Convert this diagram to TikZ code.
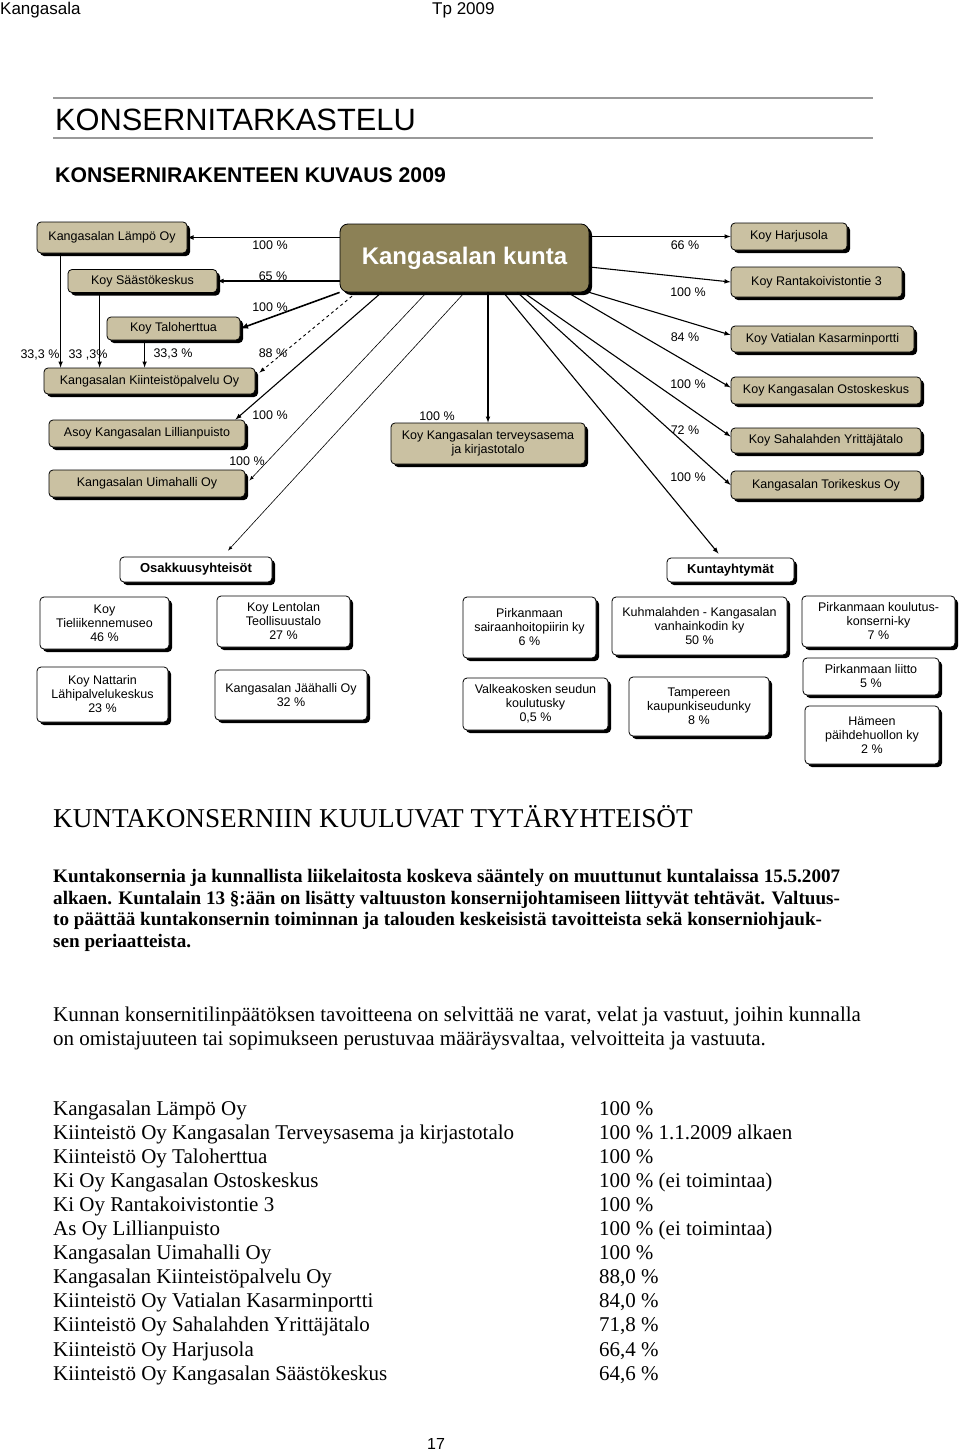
\documentclass[tikz,border=0pt]{standalone}
\usepackage{fontspec}
\setmainfont{Liberation Serif}
\setsansfont{Liberation Sans}
\usetikzlibrary{shadows,positioning}
\definecolor{khaki}{RGB}{202,193,162}
\definecolor{olive}{RGB}{140,129,86}
\newcommand{\fs}[2]{\fontsize{#1}{#2}\selectfont}
\tikzset{
  firm/.style={draw,line width=0.8pt,rounded corners=4pt,fill=khaki,align=center,inner sep=1pt,
    font=\sffamily\fs{12.5}{14},
    drop shadow={shadow xshift=3pt,shadow yshift=-3pt,fill=black,opacity=1}},
  member/.style={firm,fill=white},
  pct/.style={font=\sffamily\fs{12.5}{14},inner sep=0pt},
  head/.style={font=\sffamily\fs{17}{20},inner sep=0pt,anchor=base west},
  own/.style={-latex,line width=1.1pt},
  hair/.style={-latex,line width=0.6pt},
  rule/.style={draw=black!40,line width=1.2pt},
  body/.style={inner sep=0pt,anchor=base west,font=\fs{21}{24}},
}
\begin{document}
\begin{tikzpicture}[x=1pt,y=-1pt]
  \useasboundingbox (0,0) rectangle (960,1453);
  % page head
  \node[head] (place) at (0,15) {Kangasala};
  \node[head] (year) at (432,15) {Tp 2009};
  \draw[rule] (53,98) -- (873,98) (53,138) -- (873,138);
  \node[inner sep=0pt,anchor=base west,font=\sffamily\fs{30.8}{36}] (title) at (55,131) {KONSERNITARKASTELU};
  \node[inner sep=0pt,anchor=base west,font=\sffamily\bfseries\fs{21.2}{25}] (subtitle) at (55,182) {KONSERNIRAKENTEEN KUVAUS 2009};

  % the municipality
  \node[firm,fill=olive,text=white,rounded corners=8pt,font=\sffamily\bfseries\fs{24}{28},
        minimum width=249pt,minimum height=68pt] (kunta) at (464.5,258) {Kangasalan kunta};
  % left group
  \node[firm,minimum width=150pt,minimum height=31pt] (lampo) at (112,237.5) {Kangasalan Lämpö Oy};
  \node[firm,minimum width=149pt,minimum height=23pt] (saasto) at (142.5,281) {Koy Säästökeskus};
  \node[firm,minimum width=133pt,minimum height=23pt] (talo) at (173.5,328.5) {Koy Taloherttua};
  \node[firm,minimum width=211pt,minimum height=26pt] (kiint) at (149.5,381) {Kangasalan Kiinteistöpalvelu Oy};
  \node[firm,minimum width=196pt,minimum height=27pt] (lilja) at (147,433.5) {Asoy Kangasalan Lillianpuisto};
  \node[firm,minimum width=196pt,minimum height=27pt] (uima) at (147,483.5) {Kangasalan Uimahalli Oy};
  \node[firm,minimum width=194pt,minimum height=41pt] (terveys) at (488,443.5) {Koy Kangasalan terveysasema\\ja kirjastotalo};
  % right group
  \node[firm,minimum width=116pt,minimum height=27pt] (harju) at (789,236.5) {Koy Harjusola};
  \node[firm,minimum width=171pt,minimum height=30pt] (ranta) at (816.5,282) {Koy Rantakoivistontie 3};
  \node[firm,minimum width=183pt,minimum height=26pt] (vati) at (822.5,339) {Koy Vatialan Kasarminportti};
  \node[firm,minimum width=190pt,minimum height=27pt] (ostos) at (826,390.5) {Koy Kangasalan Ostoskeskus};
  \node[firm,minimum width=190pt,minimum height=25pt] (saha) at (826,440.5) {Koy Sahalahden Yrittäjätalo};
  \node[firm,minimum width=190pt,minimum height=28pt] (tori) at (826,485) {Kangasalan Torikeskus Oy};

  % associated companies
  \node[member,font=\sffamily\bfseries\fs{13}{15},minimum width=152pt,minimum height=25pt] (osak) at (196,569.5) {Osakkuusyhteisöt};
  \node[member,minimum width=129pt,minimum height=52pt] (tiel) at (104.5,623) {Koy\\Tieliikennemuseo\\46 \%};
  \node[member,minimum width=133pt,minimum height=51pt] (lent) at (283.5,621.5) {Koy Lentolan\\Teollisuustalo\\27 \%};
  \node[member,minimum width=131pt,minimum height=55pt] (natt) at (102.5,694.5) {Koy Nattarin\\Lähipalvelukeskus\\23 \%};
  \node[member,minimum width=152pt,minimum height=50pt] (jaa) at (291,695) {Kangasalan Jäähalli Oy\\32 \%};
  % joint municipal authorities
  \node[member,font=\sffamily\bfseries\fs{13}{15},minimum width=127pt,minimum height=24pt] (kuntay) at (730.5,570) {Kuntayhtymät};
  \node[member,minimum width=133pt,minimum height=61pt] (pshp) at (529.5,627.5) {Pirkanmaan\\sairaanhoitopiirin ky\\6 \%};
  \node[member,minimum width=175pt,minimum height=58pt] (kuhm) at (699.5,626) {Kuhmalahden - Kangasalan\\vanhainkodin ky\\50 \%};
  \node[member,minimum width=153pt,minimum height=51pt] (pkk) at (878.5,621.5) {Pirkanmaan koulutus-\\konserni-ky\\7 \%};
  \node[member,minimum width=145pt,minimum height=52pt] (valk) at (535.5,704) {Valkeakosken seudun\\koulutusky\\0,5 \%};
  \node[member,minimum width=140pt,minimum height=59pt] (tamp) at (699,706.5) {Tampereen\\kaupunkiseudunky\\8 \%};
  \node[member,minimum width=136pt,minimum height=37pt] (pliitto) at (871,676.5) {Pirkanmaan liitto\\5 \%};
  \node[member,minimum width=134pt,minimum height=58pt] (hame) at (872,735) {Hämeen\\päihdehuollon ky\\2 \%};

  % ownership arrows, left
  \draw[own] (kunta.west|-lampo.east) -- (lampo.east);
  \draw[own] (kunta.west|-saasto.east) -- (saasto.east);
  \draw[own,line width=1.6pt] (kunta.south west) -- (talo.east);
  \draw[own,dashed,line width=0.9pt] ([xshift=17pt]kunta.south west) -- ([xshift=4pt,yshift=-5pt]kiint.north east);
  \draw[own] ([xshift=42pt]kunta.south west) -- ([xshift=-10pt]lilja.north east);
  \draw[hair] ([xshift=87pt]kunta.south west) -- ([xshift=4pt,yshift=3pt]uima.east);
  \draw[hair] ([xshift=125pt]kunta.south west) -- ([xshift=32pt,yshift=6pt]osak.north);
  \draw[own] (terveys.north|-kunta.south) -- (terveys.north);
  \draw[own] ([xshift=24pt]lampo.south west) coordinate (v1) -- (v1|-kiint.north);
  \draw[own] ([xshift=32pt]saasto.south west) coordinate (v2) -- (v2|-kiint.north);
  \draw[own] ([xshift=38pt]talo.south west) coordinate (v3) -- (v3|-kiint.north);
  % ownership arrows, right
  \draw[own] (kunta.east|-harju.west) -- (harju.west);
  \draw[own] ([yshift=-9pt]kunta.east) -- (ranta.west);
  \draw[own] (kunta.south east) -- ([yshift=4pt]vati.west);
  \draw[own] ([xshift=-22pt]kunta.south east) -- ([yshift=3pt]ostos.west);
  \draw[own] ([xshift=-66pt]kunta.south east) -- ([yshift=4pt]saha.west);
  \draw[own] ([xshift=-72pt]kunta.south east) -- (tori.west);
  \draw[own] ([xshift=-86pt]kunta.south east) -- ([xshift=-12pt,yshift=4pt]kuntay.north);

  % shares
  \node[pct] at (270,245) {100 \%};
  \node[pct] at (273,276) {65 \%};
  \node[pct] at (270,307) {100 \%};
  \node[pct] at (273,353) {88 \%};
  \node[pct] at (270,415) {100 \%};
  \node[pct] at (247,461) {100 \%};
  \node[pct] at (40,355) {33,3 \%};
  \node[pct] at (88,355) {33 ,3\%};
  \node[pct] at (173,354) {33,3 \%};
  \node[pct] at (437,416) {100 \%};
  \node[pct] at (685,245) {66 \%};
  \node[pct] at (688,292) {100 \%};
  \node[pct] at (685,337) {84 \%};
  \node[pct] at (688,384) {100 \%};
  \node[pct] at (685,430) {72 \%};
  \node[pct] at (688,477) {100 \%};

  % text below the chart
  \node[inner sep=0pt,anchor=base west,font=\fs{27.2}{31}] (subhead) at (53,827) {KUNTAKONSERNIIN KUULUVAT TYTÄRYHTEISÖT};
  \node[body,font=\bfseries\fs{19.1}{22}] (p1) at (53,882) {Kuntakonsernia ja kunnallista liikelaitosta koskeva sääntely on muuttunut kuntalaissa 15.5.2007};
  \node[body,font=\bfseries\fs{19.1}{22}] (p2) at (53,904) {alkaen. Kuntalain 13 §:ään on lisätty valtuuston konsernijohtamiseen liittyvät tehtävät. Valtuus-};
  \node[body,font=\bfseries\fs{19.1}{22}] (p3) at (53,925.5) {to päättää kuntakonsernin toiminnan ja talouden keskeisistä tavoitteista sekä konserniohjauk-};
  \node[body,font=\bfseries\fs{19.1}{22}] (p4) at (53,947) {sen periaatteista.};
  \node[body] (q1) at (53,1021.5) {Kunnan konsernitilinpäätöksen tavoitteena on selvittää ne varat, velat ja vastuut, joihin kunnalla};
  \node[body] (q2) at (53,1045) {on omistajuuteen tai sopimukseen perustuvaa määräysvaltaa, velvoitteita ja vastuuta.};
  \foreach \co/\pc [count=\i from 0] in {Kangasalan Lämpö Oy/100 \%,
      Kiinteistö Oy Kangasalan Terveysasema ja kirjastotalo/100 \% 1.1.2009 alkaen,
      Kiinteistö Oy Taloherttua/100 \%,
      Ki Oy Kangasalan Ostoskeskus/100 \% (ei toimintaa),
      Ki Oy Rantakoivistontie 3/100 \%,
      As Oy Lillianpuisto/100 \% (ei toimintaa),
      Kangasalan Uimahalli Oy/100 \%,
      Kangasalan Kiinteistöpalvelu Oy/{88,0 \%},
      Kiinteistö Oy Vatialan Kasarminportti/{84,0 \%},
      Kiinteistö Oy Sahalahden Yrittäjätalo/{71,8 \%},
      Kiinteistö Oy Harjusola/{66,4 \%},
      Kiinteistö Oy Kangasalan Säästökeskus/{64,6 \%}}{
    \node[body] (co\i) at (53,{1115+24.1*\i}) {\co};
    \node[body] (pc\i) at (599,{1115+24.1*\i}) {\pc};
  }
  \node[inner sep=0pt,anchor=base,font=\sffamily\fs{16}{18}] (page) at (436,1449) {17};
\end{tikzpicture}
\end{document}
